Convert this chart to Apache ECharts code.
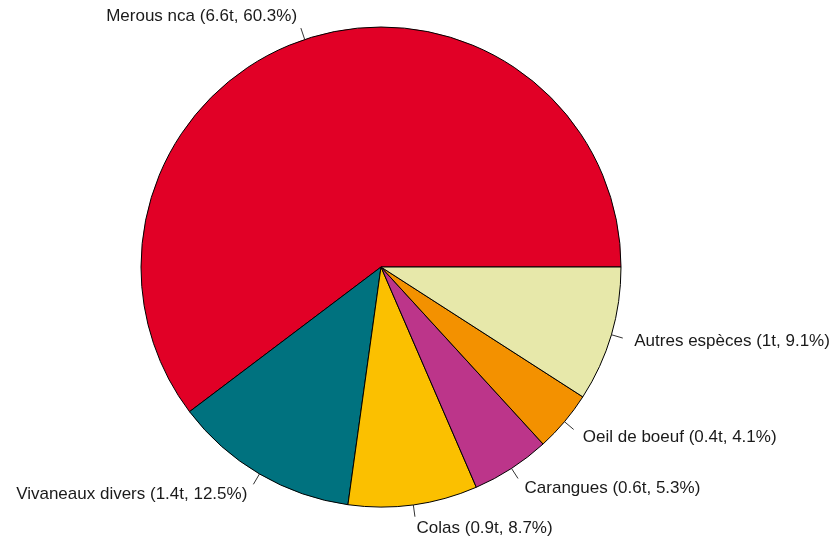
<!DOCTYPE html>
<html>
<head>
<meta charset="utf-8">
<script src="https://cdn.jsdelivr.net/npm/echarts@6/dist/echarts.min.js"></script>
<style>html,body{margin:0;padding:0;background:#fff}#c{width:837px;height:542px}</style>
</head>
<body>
<div id="c"></div>
<script>
var categories = ["Merous nca", "Vivaneaux divers", "Colas", "Carangues", "Oeil de boeuf", "Autres espèces"];
var tonnes = ["6.6", "1.4", "0.9", "0.6", "0.4", "1"];
var percents = [60.3, 12.5, 8.7, 5.3, 4.1, 9.1];
var colors = ["#E10026", "#00727F", "#FBC000", "#BC358A", "#F39100", "#E7E8AA"];

var sliceData = categories.map(function (c, i) {
  return { name: c, value: percents[i], itemStyle: { color: colors[i] } };
});
var labelData = categories.map(function (c, i) {
  return {
    name: c,
    value: percents[i],
    label: { formatter: c + " (" + tonnes[i] + "t, " + percents[i] + "%)" }
  };
});

var common = {
  type: 'pie',
  center: [381, 267],
  radius: [0, 240],
  startAngle: 0,
  clockwise: false,
  avoidLabelOverlap: false,
  silent: true,
  emphasis: { disabled: true }
};

var chart = echarts.init(document.getElementById('c'), null, { renderer: 'canvas' });
chart.setOption({
  animation: false,
  backgroundColor: '#ffffff',
  series: [
    Object.assign({}, common, {
      data: sliceData,
      itemStyle: { borderColor: '#000', borderWidth: 1 },
      label: { show: true, position: 'outside', formatter: ' ', fontSize: 1, distanceToLabelLine: 0 },
      labelLine: { show: true, length: 12, length2: 0, lineStyle: { color: '#333', width: 1 } }
    }),
    Object.assign({}, common, {
      data: labelData,
      itemStyle: { color: 'rgba(0,0,0,0)', borderWidth: 0 },
      label: {
        show: true,
        position: 'outside',
        fontFamily: 'Liberation Sans, Arial, sans-serif',
        fontSize: 17,
        color: '#1a1a1a',
        distanceToLabelLine: 0
      },
      labelLine: { show: false, length: 24, length2: 0 }
    })
  ]
});
</script>
</body>
</html>
